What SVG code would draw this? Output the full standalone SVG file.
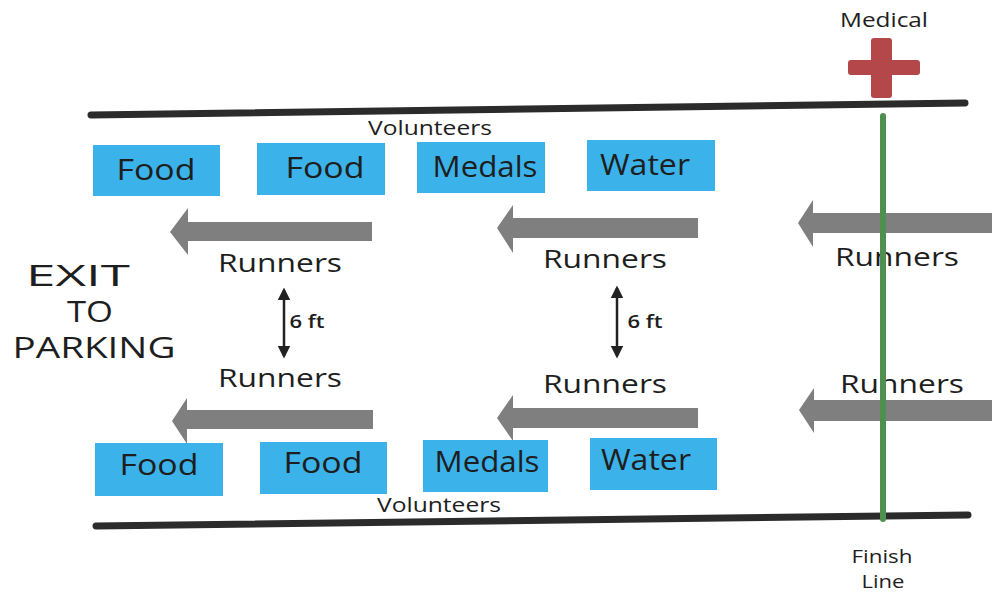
<svg xmlns="http://www.w3.org/2000/svg" width="992" height="597" viewBox="0 0 992 597">
<defs>
<style>
.bg{fill:#ffffff}
.box{fill:#3bb3ea}
.bt{font-family:"Open Sans","Liberation Sans",sans-serif;font-size:29px;fill:#1e1e1e;text-anchor:middle}
.lbl{font-family:"Open Sans","Liberation Sans",sans-serif;fill:#1e1e1e;text-anchor:middle}
.run{font-size:26px}
.vol{font-size:20px}
.exit{font-family:"Open Sans","Liberation Sans",sans-serif;font-size:29px;font-weight:400;fill:#1e1e1e;text-anchor:middle}
.flow{fill:#7f7f7f}
.rail{stroke:#2b2b2b;stroke-width:7;stroke-linecap:round;fill:none}
.fin{stroke:#4f8f50;stroke-width:6;stroke-linecap:round;fill:none}
.gap{stroke:#222;stroke-width:2.5;fill:none;marker-start:url(#ah);marker-end:url(#ah)}
.cross{fill:#b4474a}
</style>
<marker id="ah" viewBox="0 0 10 10" refX="8" refY="5" markerWidth="5" markerHeight="5" orient="auto-start-reverse" markerUnits="strokeWidth">
<path d="M0,0 L10,5 L0,10 z" fill="#222"/>
</marker>
</defs>
<rect class="bg" x="0" y="0" width="992" height="597"/>

<g id="medical">
<text class="lbl" x="884" y="27" font-size="20" textLength="88" lengthAdjust="spacingAndGlyphs">Medical</text>
<rect class="cross" x="871" y="38" width="21" height="60" rx="3"/>
<rect class="cross" x="848" y="60" width="72" height="15" rx="3"/>
</g>

<g id="rails">
<line class="rail" x1="91" y1="115" x2="965" y2="103"/>
<line class="rail" x1="96" y1="526" x2="968" y2="515"/>
</g>

<g id="connectors">
<polygon class="flow" points="170,232 188,208 188,222 372,222 372,241 188,241 188,255"/>
<polygon class="flow" points="497,228 513,205 513,218 698,218 698,238 513,238 513,253"/>
<polygon class="flow" points="798,223 813,200 813,213 992,213 992,233 813,233 813,247"/>
<polygon class="flow" points="172,421 187,398 187,410 373,410 373,429 187,429 187,444"/>
<polygon class="flow" points="497,418 513,395 513,408 698,408 698,428 513,428 513,441"/>
<polygon class="flow" points="799,410 814,388 814,400 992,400 992,421 814,421 814,433"/>
<line class="gap" x1="284" y1="290" x2="284" y2="356"/>
<line class="gap" x1="617" y1="288" x2="617" y2="356"/>
</g>

<g id="volunteers-top"><text class="lbl vol" x="430" y="135" textLength="124" lengthAdjust="spacingAndGlyphs">Volunteers</text></g>
<g id="volunteers-bottom"><text class="lbl vol" x="439" y="512" textLength="124" lengthAdjust="spacingAndGlyphs">Volunteers</text></g>

<g id="food-top-1"><rect class="box" x="93" y="145" width="127" height="51"/><text class="bt" x="156" y="180" textLength="79" lengthAdjust="spacingAndGlyphs">Food</text></g>
<g id="food-top-2"><rect class="box" x="257" y="143" width="128" height="52"/><text class="bt" x="325" y="178" textLength="79" lengthAdjust="spacingAndGlyphs">Food</text></g>
<g id="medals-top"><rect class="box" x="417" y="142" width="128" height="51"/><text class="bt" x="485" y="177" textLength="105" lengthAdjust="spacingAndGlyphs">Medals</text></g>
<g id="water-top"><rect class="box" x="587" y="140" width="128" height="51"/><text class="bt" x="645" y="175" textLength="90" lengthAdjust="spacingAndGlyphs">Water</text></g>

<g id="food-bottom-1"><rect class="box" x="95" y="443" width="128" height="53"/><text class="bt" x="159" y="475" textLength="79" lengthAdjust="spacingAndGlyphs">Food</text></g>
<g id="food-bottom-2"><rect class="box" x="260" y="442" width="127" height="52"/><text class="bt" x="323" y="473" textLength="79" lengthAdjust="spacingAndGlyphs">Food</text></g>
<g id="medals-bottom"><rect class="box" x="423" y="440" width="125" height="52"/><text class="bt" x="487" y="472" textLength="105" lengthAdjust="spacingAndGlyphs">Medals</text></g>
<g id="water-bottom"><rect class="box" x="590" y="438" width="127" height="52"/><text class="bt" x="646" y="470" textLength="90" lengthAdjust="spacingAndGlyphs">Water</text></g>

<g id="runners-labels">
<text class="lbl run" x="280" y="272" textLength="124" lengthAdjust="spacingAndGlyphs">Runners</text>
<text class="lbl run" x="280" y="387" textLength="124" lengthAdjust="spacingAndGlyphs">Runners</text>
<text class="lbl run" x="605" y="268" textLength="124" lengthAdjust="spacingAndGlyphs">Runners</text>
<text class="lbl run" x="605" y="393" textLength="124" lengthAdjust="spacingAndGlyphs">Runners</text>
<text class="lbl run" x="897" y="266" textLength="124" lengthAdjust="spacingAndGlyphs">Runners</text>
<text class="lbl run" x="902" y="393" textLength="124" lengthAdjust="spacingAndGlyphs">Runners</text>
<text class="lbl" x="307" y="328" font-size="18" font-weight="600" textLength="35" lengthAdjust="spacingAndGlyphs">6 ft</text>
<text class="lbl" x="645" y="328" font-size="18" font-weight="600" textLength="35" lengthAdjust="spacingAndGlyphs">6 ft</text>
</g>

<g id="finish-line">
<line class="fin" x1="883" y1="116" x2="883" y2="519"/>
<text class="lbl" x="882" y="563" font-size="19" textLength="61" lengthAdjust="spacingAndGlyphs">Finish</text>
<text class="lbl" x="883" y="588" font-size="19" textLength="43" lengthAdjust="spacingAndGlyphs">Line</text>
</g>

<g id="exit">
<text class="exit" x="78" y="286" textLength="104" lengthAdjust="spacingAndGlyphs">EXIT</text>
<text class="exit" x="90" y="322" textLength="46" lengthAdjust="spacingAndGlyphs">TO</text>
<text class="exit" x="94" y="358" textLength="163" lengthAdjust="spacingAndGlyphs">PARKING</text>
</g>
</svg>
